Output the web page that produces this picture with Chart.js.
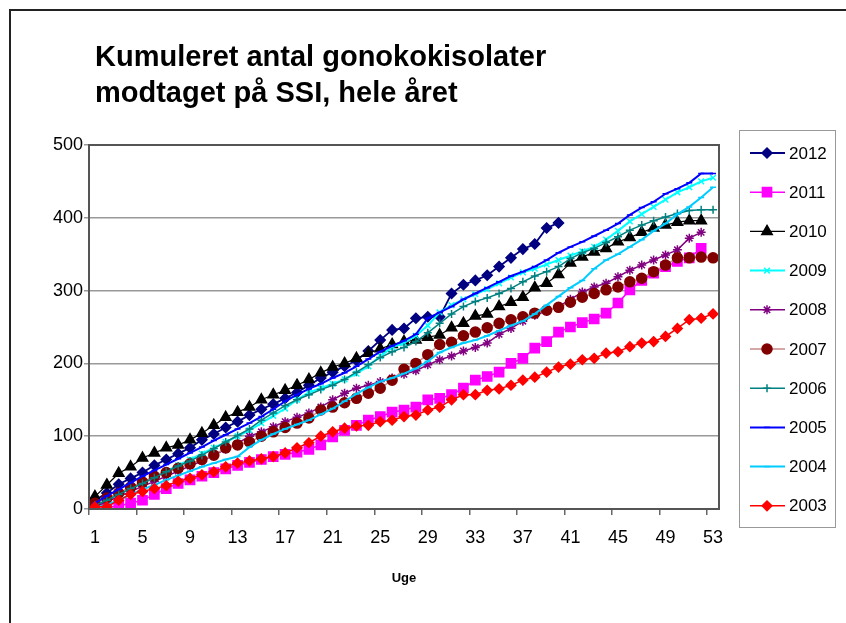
<!DOCTYPE html>
<html>
<head>
<meta charset="utf-8">
<script src="https://cdn.jsdelivr.net/npm/chart.js@4.4.1/dist/chart.umd.min.js"></script>
<style>
  html, body { margin: 0; padding: 0; background: #fff; overflow: hidden; }
  #wrap { position: relative; width: 846px; height: 623px; }
</style>
</head>
<body>
<div id="wrap"><canvas id="gonoChart"></canvas></div>
<script>
// Week categories and the labels shown on the axis
const weeks = ['1','2','3','4','5','6','7','8','9','10','11','12','13','14','15','16','17','18','19','20',
  '21','22','23','24','25','26','27','28','29','30','31','32','33','34','35','36','37','38','39','40',
  '41','42','43','44','45','46','47','48','49','50','51','52','53'];
const shownWeeks = ['1','5','9','13','17','21','25','29','33','37','41','45','49','53'];
const titleLines = ['Kumuleret antal gonokokisolater', 'modtaget på SSI, hele året'];

// Cumulative counts per week
const y2012 = [12,22,34,42,50,60,68,76,84,95,103,112,120,129,137,144,152,160,170,180,
  188,196,204,217,232,246,248,262,264,264,296,308,314,321,333,345,357,364,386,393];
const y2011 = [0,2,4,8,12,20,28,35,40,45,50,55,60,64,68,72,75,78,82,88,
  99,108,115,122,127,133,136,140,150,152,157,166,177,182,188,200,207,221,230,243,
  250,256,261,269,283,301,314,324,333,340,345,358];
const y2010 = [17,33,49,58,70,77,84,88,95,104,115,126,133,140,150,157,163,170,178,187,
  195,200,207,214,220,226,230,232,236,239,249,255,265,268,278,284,291,304,310,322,
  338,346,353,358,367,373,380,386,390,394,396,396];
const y2009 = [5,12,20,28,36,44,52,60,68,76,84,92,100,108,118,128,138,150,160,166,
  172,178,186,196,210,222,228,238,252,270,280,288,295,302,310,318,325,330,336,342,
  348,354,360,370,382,395,405,415,425,435,442,450,455];
const y2008 = [3,10,17,24,31,38,45,52,59,66,74,82,90,100,106,113,120,126,132,140,
  150,159,166,170,175,180,185,190,198,205,210,217,222,228,240,248,258,266,272,278,
  288,298,305,310,319,328,335,342,349,356,372,380];
const y2007 = [8,15,22,30,37,45,50,56,62,68,74,84,88,92,100,106,112,118,125,136,
  140,146,152,159,166,177,192,200,212,226,229,238,243,249,255,260,264,269,273,277,
  284,291,296,301,305,312,317,326,335,345,345,346,345];
const y2006 = [5,12,20,28,35,43,51,59,66,74,83,92,101,110,122,132,142,150,157,164,
  170,178,188,198,208,216,222,230,242,255,268,278,285,290,296,303,312,320,326,333,
  344,352,358,366,374,383,390,396,401,406,410,411,411];
const y2005 = [8,18,27,36,45,53,61,69,77,85,94,102,110,118,127,137,148,157,165,172,
  180,187,196,206,216,224,231,240,262,270,278,288,296,304,312,320,326,333,342,352,
  360,367,375,383,392,404,414,422,433,440,448,461,461];
const y2004 = [2,6,12,20,27,33,40,46,52,58,63,68,72,85,95,103,110,116,122,130,
  138,148,158,167,175,180,186,193,203,215,222,228,232,238,245,252,258,268,280,292,
  304,314,330,342,350,360,370,382,392,405,415,428,442];
const y2003 = [3,3,12,20,24,28,32,38,42,47,51,58,63,66,69,72,77,84,91,100,
  106,111,114,115,120,122,127,129,136,140,150,157,157,163,165,170,177,181,188,195,
  199,205,207,214,216,223,228,230,237,248,260,262,268];

const FONT = '"Liberation Sans", Arial, sans-serif';

function series(label, data, line, marker, style, radius, width, order) {
  return {
    label: label,
    data: data,
    borderColor: line,
    borderWidth: width,
    backgroundColor: line,
    pointStyle: style,
    pointRadius: radius,
    pointHoverRadius: radius,
    pointBackgroundColor: marker,
    pointBorderColor: marker,
    pointBorderWidth: 1.5,
    tension: 0,
    fill: false,
    order: order
  };
}

const datasets = [
  series('2012', y2012, '#000080', '#000080', 'rectRot', 5, 1.8, 10),
  series('2011', y2011, '#FF00FF', '#FF00FF', 'rect', 6.5, 1.5, 9),
  series('2010', y2010, '#000000', '#000000', 'triangle', 6, 1.2, 8),
  series('2009', y2009, '#00FFFF', '#00FFFF', 'crossRot', 4, 2, 7),
  series('2008', y2008, '#800080', '#800080', 'star', 4.5, 1.5, 6),
  series('2007', y2007, '#C98A8A', '#800000', 'circle', 5, 1.5, 5),
  series('2006', y2006, '#008080', '#008080', 'cross', 4, 1.5, 4),
  series('2005', y2005, '#0000FF', '#0000FF', 'line', 3, 2, 3),
  series('2004', y2004, '#00CCFF', '#00CCFF', 'line', 3, 2, 2),
  series('2003', y2003, '#FF0000', '#FF0000', 'rectRot', 4.8, 1.5, 1)
];

// Title, legend box and frames, drawn like the original spreadsheet chart
const chartDecor = {
  id: 'chartDecor',
  afterDraw(chart) {
    const ctx = chart.ctx;
    const a = chart.chartArea;
    ctx.save();

    ctx.strokeStyle = '#222';
    ctx.lineWidth = 2;
    ctx.beginPath();
    ctx.moveTo(10, 623);
    ctx.lineTo(10, 10);
    ctx.lineTo(846, 10);
    ctx.stroke();

    ctx.strokeStyle = '#555';
    ctx.lineWidth = 2;
    ctx.strokeRect(a.left, a.top, a.right - a.left, a.bottom - a.top);

    ctx.fillStyle = '#000';
    ctx.font = 'bold 29px ' + FONT;
    ctx.textAlign = 'left';
    ctx.textBaseline = 'alphabetic';
    titleLines.forEach((t, i) => ctx.fillText(t, 95, 66 + i * 36));

    ctx.strokeStyle = '#999';
    ctx.lineWidth = 1;
    ctx.strokeRect(739.5, 130.5, 96, 397);
    ctx.font = '17px ' + FONT;
    ctx.textBaseline = 'middle';
    chart.data.datasets.forEach((ds, i) => {
      const y = 153 + i * 39.2;
      ctx.strokeStyle = ds.borderColor;
      ctx.lineWidth = ds.borderWidth;
      ctx.beginPath();
      ctx.moveTo(750, y);
      ctx.lineTo(785, y);
      ctx.stroke();
      ctx.fillStyle = ds.pointBackgroundColor;
      ctx.strokeStyle = ds.pointBorderColor;
      ctx.lineWidth = ds.pointBorderWidth;
      Chart.helpers.drawPoint(ctx, {
        pointStyle: ds.pointStyle,
        radius: ds.pointRadius,
        borderWidth: ds.pointBorderWidth,
        rotation: 0
      }, 767, y);
      ctx.fillStyle = '#000';
      ctx.fillText(ds.label, 789, y + 1);
    });
    ctx.restore();
  }
};

new Chart(document.getElementById('gonoChart'), {
  type: 'line',
  data: { labels: weeks, datasets: datasets },
  options: {
    responsive: true,
    maintainAspectRatio: false,
    animation: false,
    layout: { padding: { left: 0, top: 145, right: 127, bottom: 0 } },
    plugins: {
      legend: { display: false },
      title: { display: false },
      tooltip: { enabled: false }
    },
    scales: {
      x: {
        offset: true,
        afterFit: scale => { scale.height = 114; },
        grid: {
          offset: true,
          drawOnChartArea: false,
          tickLength: 6,
          lineWidth: 1.5,
          color: c => (c.index % 4 === 0 ? '#666' : 'rgba(0,0,0,0)')
        },
        border: { color: '#555', width: 2 },
        ticks: {
          autoSkip: false,
          maxRotation: 0,
          padding: 12,
          color: '#000',
          font: { family: FONT, size: 18 },
          callback: function (v) {
            const lab = this.getLabelForValue(v);
            return shownWeeks.includes(lab) ? lab : '';
          }
        },
        title: {
          display: true,
          text: 'Uge',
          color: '#000',
          font: { family: FONT, size: 13, weight: 'bold' },
          padding: { top: 0, bottom: 37 }
        }
      },
      y: {
        min: 0,
        max: 500,
        afterFit: scale => { scale.width = 89; },
        grid: { color: '#999', lineWidth: 1.5, tickLength: 5 },
        border: { color: '#555', width: 2 },
        ticks: {
          stepSize: 100,
          padding: 1,
          color: '#000',
          font: { family: FONT, size: 18 }
        }
      }
    }
  },
  plugins: [chartDecor]
});
</script>
</body>
</html>
